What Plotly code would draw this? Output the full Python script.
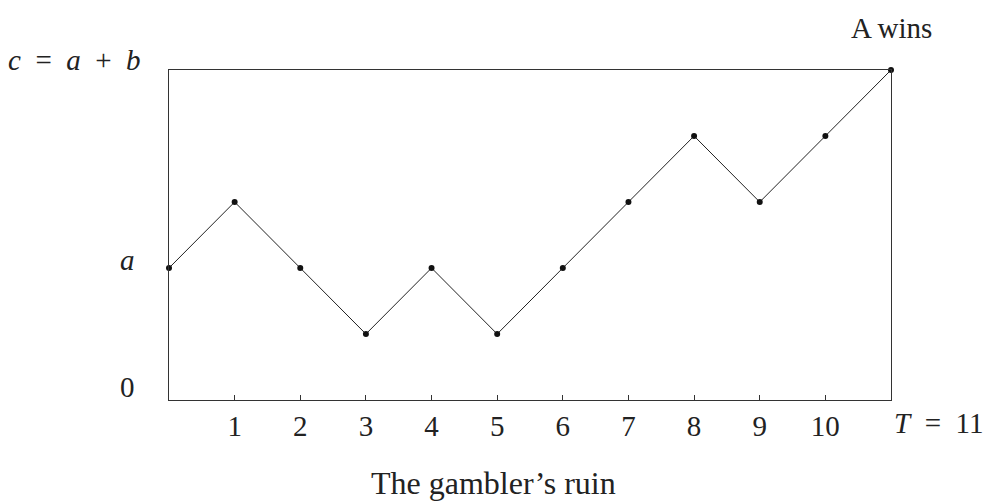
import plotly.graph_objects as go

steps = [0, 1, 2, 3, 4, 5, 6, 7, 8, 9, 10, 11]
fortune = [2, 3, 2, 1, 2, 1, 2, 3, 4, 3, 4, 5]
tick_vals = [1, 2, 3, 4, 5, 6, 7, 8, 9, 10]
tick_text = ["1", "2", "3", "4", "5", "6", "7", "8", "9", "10"]
a_level = 2
c_level = 5
T_final = 11

SERIF = "Liberation Serif"
FS = 29

fig = go.Figure()
fig.add_trace(go.Scatter(
    x=steps, y=fortune, mode="lines+markers",
    line=dict(color="#222222", width=1),
    marker=dict(color="#111111", size=6),
    cliponaxis=False, hoverinfo="skip", showlegend=False,
))

fig.update_layout(
    width=986, height=501,
    margin=dict(l=169, r=95, t=70, b=101),
    paper_bgcolor="white", plot_bgcolor="white",
    font=dict(family=SERIF, size=FS, color="#222222"),
    xaxis=dict(range=[0, T_final], tickvals=tick_vals, ticktext=tick_text,
               ticks="inside", ticklen=5, tickcolor="#333333", tickwidth=1,
               showgrid=False, zeroline=False, showline=True, linecolor="#333333",
               linewidth=1, mirror=True, tickfont=dict(family=SERIF, size=FS)),
    yaxis=dict(range=[0, c_level], showticklabels=False, ticks="",
               showgrid=False, zeroline=False, showline=True, linecolor="#333333",
               linewidth=1, mirror=True),
    annotations=[
        dict(x=0, y=0, xref="x", yref="y", text="0", showarrow=False,
             xanchor="center", yanchor="middle", xshift=-42, yshift=13,
             font=dict(family=SERIF, size=FS)),
        dict(x=0, y=a_level, xref="x", yref="y", text="<i>a</i>", showarrow=False,
             xanchor="center", yanchor="middle", xshift=-42, yshift=8,
             font=dict(family=SERIF, size=FS)),
        dict(x=0, y=c_level, xref="x", yref="y",
             text="<i>c</i>  =  <i>a</i>  +  <i>b</i>",
             showarrow=False, xanchor="center", yanchor="middle", xshift=-95, yshift=10,
             font=dict(family=SERIF, size=FS)),
        dict(x=T_final, y=c_level, xref="x", yref="y", text="A wins", showarrow=False,
             xanchor="center", yanchor="middle", xshift=0, yshift=42,
             font=dict(family=SERIF, size=FS)),
        dict(x=T_final, y=0, xref="x", yref="y", text="<i>T</i>  =  11", showarrow=False,
             xanchor="center", yanchor="middle", xshift=47, yshift=-23,
             font=dict(family=SERIF, size=FS)),
        dict(x=0.5, y=0, xref="paper", yref="y", text="The gambler’s ruin", showarrow=False,
             xanchor="center", yanchor="middle", xshift=-37, yshift=-83,
             font=dict(family=SERIF, size=32)),
    ],
)

fig.write_html("out.html", config={"displayModeBar": False},
               post_script="document.body.style.margin='0px';")
